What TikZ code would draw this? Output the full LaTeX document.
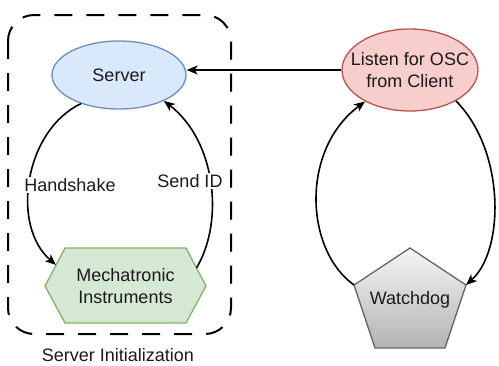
\documentclass[tikz,border=0pt]{standalone}
\usepackage{fontspec}
\setmainfont{Liberation Sans}
\usetikzlibrary{shapes.geometric,arrows.meta,calc}
\definecolor{blueF}{HTML}{DAE8FC}
\definecolor{blueD}{HTML}{6C8EBF}
\definecolor{greenF}{HTML}{D5E8D4}
\definecolor{greenD}{HTML}{82B366}
\definecolor{redF}{HTML}{F8CECC}
\definecolor{redD}{HTML}{B85450}
\definecolor{grayT}{HTML}{F5F5F5}
\definecolor{grayB}{HTML}{B3B3B3}
\definecolor{grayD}{HTML}{666666}
\definecolor{txt}{HTML}{1A1A1A}
\tikzset{
  ell/.style={ellipse, draw, line width=1.3pt, inner sep=0pt},
  txtnode/.style={align=center, text=txt, inner sep=0pt},
  conn/.style={line width=1.6pt, -{Stealth[length=11pt,width=9pt,inset=3pt]}},
  lbl/.style={fill=white, text=txt, inner sep=1.5pt},
  groupbox/.style={dash pattern=on 18pt off 14pt, line width=2pt, rounded corners=26pt},
}
\begin{document}
\begin{tikzpicture}[x=1pt,y=-1pt, font=\fontsize{18}{22}\selectfont]
\useasboundingbox (0,0) rectangle (499,365);

% group box
\draw[groupbox] (8,15) rectangle (231,334);
\node[txtnode] (grp) at (118,355) {Server Initialization};

% server
\node[ell, fill=blueF, draw=blueD, minimum width=134pt, minimum height=68pt,
      label={[txtnode]center:Server}] (server) at (119,75) {};

% listen
\node[ell, fill=redF, draw=redD, minimum width=136pt, minimum height=82pt,
      label={[txtnode]center:Listen for OSC\\from Client}] (listen) at (410,70) {};

% hexagon
\coordinate (mc) at (125.5,286);
\draw[fill=greenF, draw=greenD, line width=1.3pt]
  ($(mc)+(-80.5,0)$) -- ($(mc)+(-60.5,-38)$) -- ($(mc)+(60.5,-38)$)
  -- ($(mc)+(80.5,0)$) -- ($(mc)+(60.5,37)$) -- ($(mc)+(-60.5,37)$) -- cycle;
\node[txtnode] (mech) at (mc) {Mechatronic\\Instruments};
\coordinate (mechIn) at ($(mc)+(-69.5,-21)$);
\coordinate (mechOut) at ($(mc)+(71,-18)$);

% pentagon
\coordinate (wc) at (410,300);
\shade[top color=grayT, bottom color=grayB, draw=grayD, line width=1.3pt]
  ($(wc)+(0,-52)$) -- ($(wc)+(56,-15)$) -- ($(wc)+(35,48)$)
  -- ($(wc)+(-35,48)$) -- ($(wc)+(-56,-15)$) -- cycle;
\node[txtnode] (watch) at (wc) {Watchdog};
\coordinate (wdl) at ($(wc)+(-56,-15)$);
\coordinate (wdr) at ($(wc)+(56,-15)$);

% connectors
\draw[conn] (listen.west) -- (listen.west -| server.east);
\draw[conn] (server.217) .. controls (25,130) and (10,225) .. (mechIn);
\draw[conn] (mechOut) .. controls (225,220) and (215,140) .. (server.330);
\draw[conn] (wdl) .. controls (305,250) and (300,150) .. (listen.215);
\draw[conn] (listen.326) .. controls (505,150) and (505,250) .. (wdr);

% edge labels
\node[lbl] (hs) at (70,185) {Handshake};
\node[lbl] (sid) at (190,181) {Send ID};
\end{tikzpicture}
\end{document}
